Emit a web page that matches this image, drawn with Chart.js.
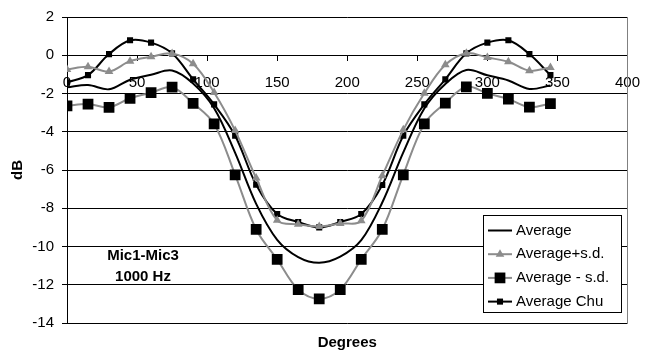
<!DOCTYPE html>
<html><head><meta charset="utf-8">
<script src="https://cdn.jsdelivr.net/npm/chart.js@4/dist/chart.umd.min.js"></script>
<style>html,body{margin:0;padding:0;background:#fff}#wrap{width:654px;height:356px;position:relative}</style>
</head><body><div id="wrap"><canvas id="c" width="654" height="356"></canvas></div>
<script>
const degrees = [0,15,30,45,60,75,90,105,120,135,150,165,180,195,210,225,240,255,270,285,300,315,330,345];
const average = [-1.68,-1.56,-1.78,-1.28,-1.02,-0.8,-1.48,-2.77,-5.1,-7.77,-9.65,-10.55,-10.85,-10.53,-9.67,-7.7,-5.08,-2.78,-1.5,-0.77,-1.05,-1.32,-1.76,-1.58];
const averagePlusSD = [-0.74,-0.6,-0.85,-0.31,-0.08,0.09,-0.45,-1.95,-3.94,-6.42,-8.63,-8.84,-8.95,-8.8,-8.66,-6.3,-3.9,-1.99,-0.5,0.11,-0.12,-0.34,-0.81,-0.64];
const averageMinusSD = [-2.65,-2.55,-2.72,-2.25,-1.96,-1.67,-2.51,-3.59,-6.25,-9.11,-10.67,-12.25,-12.74,-12.25,-10.67,-9.11,-6.25,-3.59,-2.5,-1.65,-1.99,-2.29,-2.71,-2.53];
const averageChu = [-1.42,-1.04,0.06,0.78,0.66,0.1,-1.26,-2.57,-4.21,-6.77,-8.3,-8.72,-9.0,-8.72,-8.3,-6.78,-4.21,-2.57,-1.26,0.1,0.66,0.78,0.06,-1.04];
const seriesNames = ['Average','Average+s.d.','Average - s.d.','Average Chu'];
const xTitle = 'Degrees';
const yTitle = 'dB';
const noteLines = ['Mic1-Mic3','1000 Hz'];

const GRAY = '#8c8c8c';
const FONT = '"Liberation Sans", Arial, sans-serif';
const pts = arr => degrees.map((d,i)=>({x:d,y:arr[i]}));

const styles = [
  {line:'#000', fill:'#000', style:false, r:0},
  {line:GRAY, fill:GRAY, style:'triangle', r:5},
  {line:GRAY, fill:'#000', style:'rect', r:7.6},
  {line:'#000', fill:'#000', style:'rect', r:4.3}
];
const datasets = [average, averagePlusSD, averageMinusSD, averageChu].map((arr,i)=>({
  label: seriesNames[i],
  data: pts(arr),
  borderColor: styles[i].line,
  backgroundColor: styles[i].fill,
  pointBackgroundColor: styles[i].fill,
  pointBorderColor: styles[i].fill,
  pointBorderWidth: 0,
  pointStyle: styles[i].style || 'circle',
  pointRadius: styles[i].r,
  pointHoverRadius: styles[i].r,
  borderWidth: 2,
  tension: 0.35,
  fill: false
}));

const extras = {
  id: 'extras',
  afterDraw(chart) {
    const ctx = chart.ctx, a = chart.chartArea;
    ctx.save();
    ctx.strokeStyle = '#808080'; ctx.lineWidth = 1;
    ctx.beginPath(); ctx.moveTo(Math.round(a.right)+0.5, a.top); ctx.lineTo(Math.round(a.right)+0.5, a.bottom); ctx.stroke();
    ctx.fillStyle = '#000';
    ctx.font = 'bold 15px ' + FONT;
    ctx.textAlign = 'center'; ctx.textBaseline = 'middle';
    ctx.fillText(noteLines[0], 143, 256);
    ctx.fillText(noteLines[1], 143, 277);
    const bx = 483.5, by = 215.5, bw = 138, bh = 97;
    ctx.fillStyle = '#fff'; ctx.fillRect(bx, by, bw, bh);
    ctx.strokeStyle = '#000'; ctx.lineWidth = 1; ctx.strokeRect(bx, by, bw, bh);
    ctx.font = '15px ' + FONT; ctx.textAlign = 'left';
    for (let i = 0; i < 4; i++) {
      const y = 230.5 + i * 23.7;
      const s = styles[i];
      ctx.strokeStyle = s.line; ctx.lineWidth = 2;
      ctx.beginPath(); ctx.moveTo(488, y); ctx.lineTo(512, y); ctx.stroke();
      if (s.style) {
        ctx.fillStyle = s.fill;
        ctx.beginPath();
        if (s.style === 'rect') { const h = s.r * Math.SQRT1_2; ctx.rect(500-h, y-h, 2*h, 2*h); }
        else { const r = s.r; ctx.moveTo(500, y - r); ctx.lineTo(500 + r*0.866, y + r/2); ctx.lineTo(500 - r*0.866, y + r/2); ctx.closePath(); }
        ctx.fill();
      }
      ctx.fillStyle = '#000';
      ctx.fillText(seriesNames[i], 516, y);
    }
    ctx.restore();
  }
};

new Chart(document.getElementById('c'), {
  type: 'line',
  data: { datasets },
  options: {
    responsive: false,
    devicePixelRatio: 1,
    animation: false,
    events: [],
    layout: { padding: { left: 0, right: 12, top: 16, bottom: 0 } },
    plugins: {
      legend: { display: false },
      tooltip: { enabled: false },
      title: {
        display: true, text: xTitle, position: 'bottom', fullSize: false,
        color: '#000', font: { family: FONT, size: 15, weight: 'bold' },
        padding: { top: 11, bottom: 4 }
      }
    },
    scales: {
      x: {
        type: 'linear', min: 0, max: 400,
        position: { y: 0 },
        ticks: { stepSize: 50, color: '#000', padding: 14, maxRotation: 0, font: { family: FONT, size: 15 } },
        grid: { display: true, drawOnChartArea: false, drawTicks: true, tickLength: 5, color: '#000' },
        border: { display: true, color: '#000', width: 1 }
      },
      y: {
        min: -14, max: 2,
        ticks: { stepSize: 2, color: '#000', padding: 8, font: { family: FONT, size: 15 } },
        grid: { color: '#000', lineWidth: 1, tickLength: 5 },
        border: { display: true, color: '#000', width: 1 },
        title: { display: true, text: yTitle, color: '#000', font: { family: FONT, size: 15, weight: 'bold' }, padding: { top: 9, bottom: 0 } },
        afterFit(scale) { scale.width = 67; }
      }
    }
  },
  plugins: [extras]
});
</script></body></html>
